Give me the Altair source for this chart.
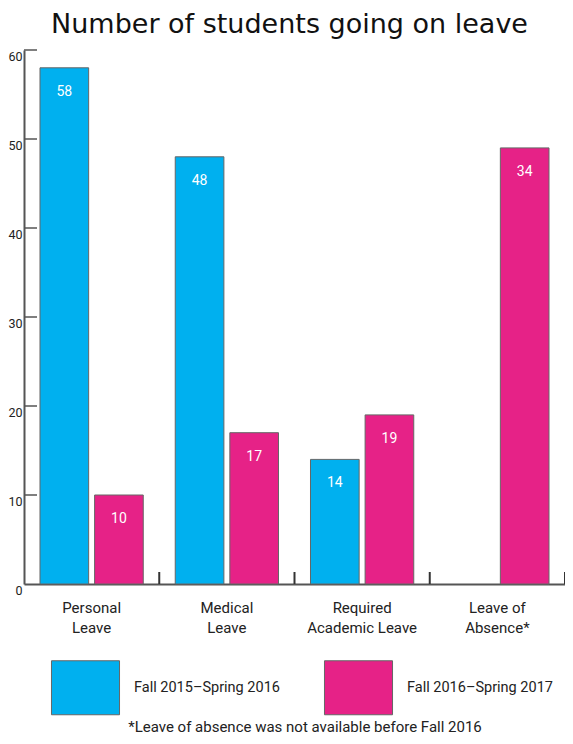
import altair as alt
import pandas as pd

# ---- data ----
categories = ["Personal|Leave", "Medical|Leave", "Required|Academic Leave", "Leave of|Absence*"]
series = ["Fall 2015\u2013Spring 2016", "Fall 2016\u2013Spring 2017"]
fall_2015_2016 = [58, 48, 14, None]
fall_2016_2017 = [10, 17, 19, 49]
labels_2015_2016 = ["58", "48", "14", None]
labels_2016_2017 = ["10", "17", "19", "34"]
y_ticks = [0, 10, 20, 30, 40, 50, 60]
inner_ticks = [10, 20, 30, 40, 50, 60]
title_text = "Number of students going on leave"
footnote = "*Leave of absence was not available before Fall 2016"

colors = ["#00B0EF", "#E62287"]
narrow = "Roboto, Liberation Sans, sans-serif"

rows = []
for i, c in enumerate(categories):
    for s, vals, labs in ((series[0], fall_2015_2016, labels_2015_2016),
                          (series[1], fall_2016_2017, labels_2016_2017)):
        if vals[i] is not None:
            rows.append({"category": c, "series": s, "value": vals[i], "label": labs[i]})
df = pd.DataFrame(rows)

W, H = 541, 534

x_enc = alt.X("category:N", sort=categories,
              scale=alt.Scale(domain=categories, paddingInner=0, paddingOuter=0),
              axis=alt.Axis(title=None, ticks=False, domain=True, domainColor="#555",
                            domainWidth=2, labelExpr="split(datum.label, '|')",
                            labelFont=narrow, labelFontSize=15, labelColor="#222",
                            labelPadding=16, labelLineHeight=20, labelAngle=0))
xoff_enc = alt.XOffset("series:N", sort=series,
                       scale=alt.Scale(domain=series, paddingInner=0.109, paddingOuter=0.293))
y_enc = alt.Y("value:Q", scale=alt.Scale(domain=[0, 60], nice=False, zero=True),
              axis=alt.Axis(title=None, values=y_ticks, ticks=False, grid=False,
                            domain=True, domainColor="#555", domainWidth=2,
                            labelBaseline="top", labelAlign="right", labelPadding=2,
                            labelFont=narrow, labelFontSize=12.5, labelColor="#222"))

bars = alt.Chart(df).mark_bar(stroke="#666", strokeWidth=1).encode(
    x=x_enc, xOffset=xoff_enc, y=y_enc,
    color=alt.Color("series:N", sort=series,
                    scale=alt.Scale(domain=series, range=colors),
                    legend=alt.Legend(title=None, orient="none", legendX=34, legendY=610,
                                      direction="horizontal", columns=2, padding=0,
                                      symbolType="M-1.26,-1H1.26V1H-1.26Z", symbolSize=2916,
                                      symbolStrokeColor="#666", symbolStrokeWidth=1,
                                      symbolOpacity=1, symbolOffset=0, labelOffset=21,
                                      columnPadding=42, labelFont=narrow, labelFontSize=14.5,
                                      labelColor="#222", labelLimit=300)),
)

texts = alt.Chart(df).mark_text(color="white", baseline="top", dy=17,
                                font=narrow, fontSize=14).encode(
    x=alt.X("category:N", sort=categories), xOffset=alt.XOffset("series:N", sort=series),
    y="value:Q", text="label:N")

tick_df = pd.DataFrame({"v": inner_ticks})
yticks = alt.Chart(tick_df).mark_rule(color="#555", strokeWidth=1.5).encode(
    y="v:Q", x=alt.value(0), x2=alt.value(13))

sep_df = pd.DataFrame({"category": categories})
seps = alt.Chart(sep_df).mark_rule(color="#333", strokeWidth=2).encode(
    x=alt.X("category:N", sort=categories, bandPosition=1),
    y=alt.value(H - 12), y2=alt.value(H))

foot_df = pd.DataFrame({"t": [footnote]})
foot = alt.Chart(foot_df).mark_text(font=narrow, fontSize=15, color="#222",
                                    baseline="middle", align="center").encode(
    text="t:N", x=alt.value(281), y=alt.value(677))

chart = alt.layer(bars, texts, yticks, seps, foot).properties(
    width=W, height=H,
    title=alt.TitleParams(title_text, font="DejaVu Sans", fontSize=27,
                          fontWeight="normal", color="#111", anchor="middle",
                          frame="group", offset=10, dx=-5),
    autosize=alt.AutoSizeParams(type="none"),
    padding={"left": 16, "top": 42, "right": 0, "bottom": 152},
).configure_view(stroke=None).configure_axis(grid=False)

chart.save("out.html", embed_options={"renderer": "svg", "actions": False})
